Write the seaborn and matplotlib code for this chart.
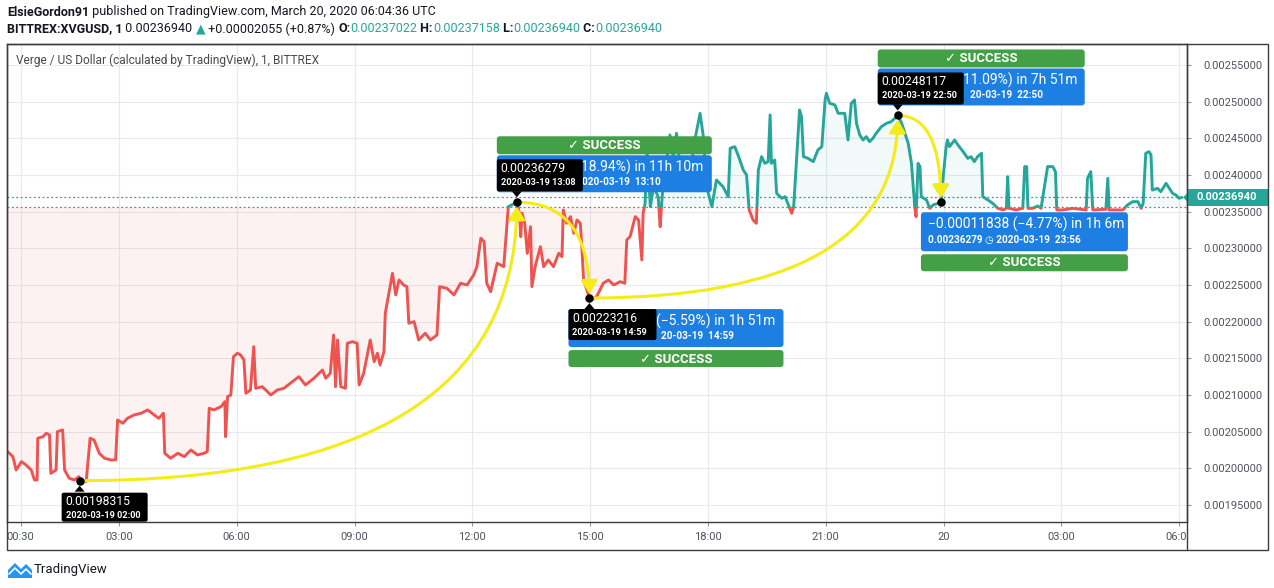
import numpy as np
import pandas as pd
import matplotlib.pyplot as plt
import matplotlib.dates as mdates
from matplotlib.patches import Rectangle, FancyBboxPatch, Polygon
from matplotlib.transforms import IdentityTransform
from matplotlib.lines import Line2D
import seaborn as sns

# 1-minute XVG/USD prices (minutes after 2020-03-19 00:00)
minute = [10, 18, 23, 31, 38, 46, 51, 55, 56, 64, 69, 74, 76, 84, 86, 94, 97, 104, 112, 119,
          120, 130, 136, 142, 150, 158, 168, 175, 178, 186, 193, 203, 214, 224, 234, 241, 248, 250, 259, 270,
          280, 290, 300, 310, 315, 318, 325, 336, 342, 343, 346, 351, 355, 361, 366, 371, 374, 381, 386, 389,
          399, 407, 412, 422, 432, 442, 455, 465, 478, 491, 496, 503, 508, 511, 514, 519, 526, 529, 537, 544,
          547, 554, 564, 570, 575, 579, 585, 587, 598, 603, 608, 615, 620, 623, 631, 638, 648, 656, 666, 670,
          681, 692, 702, 712, 722, 727, 733, 738, 742, 748, 758, 768, 775, 788, 792, 794, 796, 800, 804, 809,
          811, 816, 824, 829, 836, 844, 852, 857, 859, 864, 870, 875, 880, 885, 887, 890, 899, 903, 910, 920,
          928, 936, 946, 953, 956, 961, 969, 974, 979, 981, 984, 987, 992, 997, 1004, 1007, 1009, 1012, 1017, 1022,
          1027, 1032, 1037, 1042, 1053, 1058, 1063, 1068, 1073, 1078, 1086, 1093, 1103, 1111, 1114, 1121, 1126, 1134, 1139, 1143,
          1149, 1154, 1157, 1162, 1167, 1172, 1175, 1177, 1182, 1185, 1193, 1198, 1203, 1208, 1211, 1215, 1220, 1223, 1226, 1233,
          1241, 1248, 1254, 1259, 1261, 1266, 1274, 1279, 1289, 1294, 1299, 1304, 1307, 1312, 1317, 1322, 1327, 1332, 1337, 1345,
          1353, 1360, 1370, 1376, 1381, 1386, 1391, 1396, 1398, 1401, 1404, 1406, 1414, 1419, 1424, 1436, 1439, 1444, 1446, 1449,
          1457, 1462, 1470, 1477, 1482, 1487, 1492, 1498, 1500, 1508, 1515, 1523, 1531, 1536, 1538, 1540, 1551, 1561, 1564, 1567,
          1569, 1576, 1584, 1589, 1599, 1607, 1611, 1613, 1622, 1637, 1658, 1660, 1665, 1668, 1688, 1691, 1693, 1714, 1721, 1729,
          1737, 1742, 1745, 1749, 1754, 1757, 1759, 1767, 1772, 1780, 1785, 1790, 1795, 1800, 1804]
price = [0.0020227, 0.0020159, 0.0019977, 0.0020091, 0.0020046, 0.0019977, 0.0019841, 0.0019841, 0.0020410, 0.0020431,
         0.0020478, 0.0020455, 0.0019932, 0.0019977, 0.0020500, 0.0020523, 0.0019977, 0.0019864, 0.0019841, 0.0019886,
         0.00198315, 0.0019820, 0.0020410, 0.0020386, 0.0020205, 0.0020137, 0.0020114, 0.0020114, 0.0020659, 0.0020614,
         0.0020682, 0.0020727, 0.0020751, 0.0020796, 0.0020727, 0.0020682, 0.0020751, 0.0020205, 0.0020137, 0.0020205,
         0.0020159, 0.0020250, 0.0020182, 0.0020205, 0.0020227, 0.0020819, 0.0020796, 0.0020841, 0.0020909, 0.0020431,
         0.0020977, 0.0021000, 0.0021522, 0.0021569, 0.0021546, 0.0021477, 0.0021023, 0.0021068, 0.0021659, 0.0021091,
         0.0021113, 0.0021045, 0.0021000, 0.0021068, 0.0021091, 0.0021160, 0.0021250, 0.0021136, 0.0021228, 0.0021341,
         0.0021228, 0.0021296, 0.0021818, 0.0021113, 0.0021750, 0.0021113, 0.0021091, 0.0021705, 0.0021727, 0.0021705,
         0.0021136, 0.0021296, 0.0021750, 0.0021454, 0.0021569, 0.0021409, 0.0021591, 0.0022114, 0.0022659, 0.0022364,
         0.0022568, 0.0022500, 0.0022477, 0.0021978, 0.0022000, 0.0021750, 0.0021841, 0.0021750, 0.0021818, 0.0022477,
         0.0022455, 0.0022364, 0.0022523, 0.0022500, 0.0022636, 0.0022750, 0.0023137, 0.0023090, 0.0022523, 0.0022409,
         0.0022796, 0.0022750, 0.0023568, 0.00236279, 0.0023478, 0.0023159, 0.0023478, 0.0023341, 0.0022932, 0.0023295,
         0.0022477, 0.0022750, 0.0023022, 0.0022750, 0.0022841, 0.0022750, 0.0022932, 0.0022886, 0.0023523, 0.0023341,
         0.0023432, 0.0023205, 0.0023386, 0.0023341, 0.0023068, 0.0022568, 0.00223216, 0.0022300, 0.0022341, 0.0022523,
         0.0022568, 0.0022500, 0.0022545, 0.0022523, 0.0023114, 0.0023159, 0.0023432, 0.0023386, 0.0022841, 0.0023478,
         0.0023614, 0.0024341, 0.0023568, 0.0023841, 0.0023704, 0.0023295, 0.0023568, 0.0023932, 0.0024205, 0.0024545,
         0.0024250, 0.0024568, 0.0024159, 0.0023841, 0.0023932, 0.0024386, 0.0024614, 0.0024841, 0.0024523, 0.0023841,
         0.0023568, 0.0023932, 0.0023841, 0.0023704, 0.0024364, 0.0024386, 0.0024273, 0.0024068, 0.0024000, 0.0023523,
         0.0023386, 0.0023341, 0.0024068, 0.0024250, 0.0024159, 0.0024182, 0.0024818, 0.0024159, 0.0024205, 0.0023750,
         0.0023682, 0.0023704, 0.0023591, 0.0023478, 0.0023568, 0.0024159, 0.0024886, 0.0024795, 0.0024250, 0.0024227,
         0.0024182, 0.0024341, 0.0024386, 0.0025023, 0.0025114, 0.0024977, 0.0024955, 0.0024841, 0.0024841, 0.0024477,
         0.0024977, 0.0025023, 0.0024705, 0.0024545, 0.0024477, 0.0024523, 0.0024454, 0.0024500, 0.0024568, 0.0024659,
         0.0024705, 0.0024727, 0.00248117, 0.0024705, 0.0024568, 0.0024432, 0.0024159, 0.0023568, 0.0023432, 0.0024159,
         0.0024114, 0.0023704, 0.0023659, 0.0023545, 0.0023591, 0.00236279, 0.0023932, 0.0024386, 0.0024477, 0.0024386,
         0.0024477, 0.0024409, 0.0024318, 0.0024227, 0.0024250, 0.0024182, 0.0024250, 0.0024296, 0.0023704, 0.0023659,
         0.0023614, 0.0023545, 0.0023523, 0.0023545, 0.0023977, 0.0023545, 0.0023523, 0.0023545, 0.0024114, 0.0024114,
         0.0023545, 0.0023545, 0.0023577, 0.0023545, 0.0024114, 0.0024114, 0.0024045, 0.0023523, 0.0023523, 0.0023545,
         0.0023523, 0.0023955, 0.0024045, 0.0023523, 0.0023532, 0.0023955, 0.0023523, 0.0023523, 0.0023591, 0.0023636,
         0.0023636, 0.0023545, 0.0023614, 0.0024296, 0.0024318, 0.0024273, 0.0023795, 0.0023818, 0.0023773, 0.0023886,
         0.0023818, 0.0023750, 0.0023727, 0.0023682, 0.0023694]

baseline = 0.0023564
last_price = 0.0023694

# swing points picked with the drawing tool
pick_minute = [120, 788, 899, 1370, 1436]
pick_price = [0.00198315, 0.00236279, 0.00223216, 0.00248117, 0.00236279]
pick_stamp = ["2020-03-19 02:00", "2020-03-19 13:08", "2020-03-19 14:59", "2020-03-19 22:50", "2020-03-19 23:56"]
# result boxes: only the part not hidden behind the black tooltips is visible
move_text = ["18.94%) in 11h 10m", "(\u22125.59%) in 1h 51m", "11.09%) in 7h 51m",
             "\u22120.00011838 (\u22124.77%) in 1h 6m"]
move_end = ["020-03-19  13:10", "20-03-19  14:59", "20-03-19  22:50", "0.00236279 \u25f7 2020-03-19  23:56"]

tick_minute = [30, 180, 360, 540, 720, 900, 1080, 1260, 1440, 1620, 1800]
tick_label = ["00:30", "03:00", "06:00", "09:00", "12:00", "15:00", "18:00", "21:00", "20", "03:00", "06:00"]

RED, TEAL, BLUE, GREEN, YELLOW = "#ef5350", "#26a69a", "#1e7fe3", "#43a047", "#f3ec19"
FRAME, TXT, GREY = "#3d3d3d", "#131722", "#50535e"

sns.set_style("white")
plt.rcParams["font.family"] = ["Roboto", "DejaVu Sans"]

t0 = pd.Timestamp("2020-03-19")
times = t0 + pd.to_timedelta(minute, unit="m")
price_arr = np.array(price)

W, H = 1274, 588
fig = plt.figure(figsize=(W / 100, H / 100), dpi=100)
ax = fig.add_axes([7 / W, 1 - 522 / H, 1180 / W, 478 / H])

xlo, xhi = t0 + pd.Timedelta(minutes=9), t0 + pd.Timedelta(minutes=1812)
ax.set_xlim(xlo, xhi)
ax.set_ylim(0.0019268, 0.0025786)

# baseline-style fill
tn = mdates.date2num(times)
ax.fill_between(tn, price_arr, baseline, where=price_arr >= baseline, interpolate=True,
                color=TEAL, alpha=0.06, lw=0)
ax.fill_between(tn, price_arr, baseline, where=price_arr < baseline, interpolate=True,
                color=RED, alpha=0.07, lw=0)

# two-coloured line: same series, clipped above / below the baseline
x0n, x1n = mdates.date2num(xlo), mdates.date2num(xhi)
for col, y0 in [(TEAL, baseline), (RED, baseline - 1)]:
    sns.lineplot(x=times, y=price, ax=ax, color=col, lw=2.1, sort=False)
    clip = Rectangle((x0n, y0), x1n - x0n, 1, transform=ax.transData)
    ax.lines[-1].set_clip_path(clip)

ax.axhline(last_price, color=TEAL, lw=0.9, ls=(0, (1.5, 2)))
ax.axhline(baseline, color="#7a7d85", lw=0.9, ls=(0, (1.5, 2)))

# axes look
ax.set_xlabel("")
ax.set_ylabel("")
ax.set_xticks([t0 + pd.Timedelta(minutes=m) for m in tick_minute])
ax.set_xticklabels(tick_label)
ax.yaxis.tick_right()
ax.set_yticks(np.arange(0.00195, 0.002551, 0.00005))
ax.yaxis.set_major_formatter(plt.FormatStrFormatter("%.8f"))
ax.tick_params(axis="y", length=3, color="#9598a1", labelsize=8, labelcolor=GREY, pad=9, right=True)
ax.tick_params(axis="x", length=3, color="#9598a1", labelsize=8, labelcolor=GREY, pad=4, bottom=True)
ax.grid(True, color="#e7e9ef", lw=0.8)
ax.set_axisbelow(True)
for s in ax.spines.values():
    s.set_color(FRAME)
    s.set_linewidth(1)

ax.text(9 / 1180, 1 - 16 / 478, "Verge / US Dollar (calculated by TradingView), 1, BITTREX",
        transform=ax.transAxes, fontsize=8.6, color="#4a4a4a", va="center", ha="left")

# yellow swing arrows
pdates = [t0 + pd.Timedelta(minutes=m) for m in pick_minute]
for i in range(4):
    ax.annotate("", xy=(pdates[i + 1], pick_price[i + 1]), xytext=(pdates[i], pick_price[i]),
                arrowprops=dict(arrowstyle="-|>,head_length=0.55,head_width=0.35", color=YELLOW, lw=2.2,
                                connectionstyle="angle3,angleA=0,angleB=90", shrinkA=0, shrinkB=3,
                                mutation_scale=14), zorder=4)

fig.canvas.draw()


def anchor(i):
    return ax.transData.transform((mdates.date2num(pdates[i]), pick_price[i]))


def px_box(i, dx, dy, w, h, color, z, r=3):
    x, y = anchor(i)
    ax.add_patch(FancyBboxPatch((x + dx, y - dy - h), w, h, boxstyle=f"round,pad=0,rounding_size={r}",
                                fc=color, ec="none", transform=IdentityTransform(), zorder=z, clip_on=False))


def px_tip(i, sign, z):
    x, y = anchor(i)
    pts = [(x, y - sign * 5), (x - 5, y - sign * 11), (x + 5, y - sign * 11)]
    ax.add_patch(Polygon(pts, closed=True, fc="black", ec="none", transform=IdentityTransform(), zorder=z,
                         clip_on=False))


def px_text(i, s, dx, dy, z, **kw):
    ax.annotate(s, xy=(pdates[i], pick_price[i]), xytext=(dx, -dy), textcoords="offset pixels",
                va="center", zorder=z, **kw)


# (move index, anchor index, green/blue above or below, blue width, right edges of visible lines)
boxes = [
    (0, 1, "up", 215, 187, 144),
    (1, 2, "down", 215, 186, 144),
    (2, 3, "up", 207, 180, 145),
]
for k, i, side, w, r1, r2 in boxes:
    if side == "up":
        px_box(i, -20, -66, w, 18, GREEN, 6)
        px_text(i, "\u2713 SUCCESS", -20 + w / 2, -57, 6.5, ha="center", color="white",
                fontsize=9.5, fontweight="bold")
        px_box(i, -20, -47, w, 37, BLUE, 6)
        px_text(i, move_text[k], r1, -35, 6.5, ha="right", color="white", fontsize=10)
        px_text(i, move_end[k], r2, -20, 6.5, ha="right", color="white", fontsize=7.2, fontweight="bold")
        px_box(i, -20, -43, 86, 32, "black", 7, r=2)
        px_tip(i, -1, 7)
        px_text(i, f"{pick_price[i]:.8f}", -16, -34, 7.5, ha="left", color="white", fontsize=8.8)
        px_text(i, pick_stamp[i], -16, -20, 7.5, ha="left", color="white", fontsize=6.6, fontweight="bold")
    else:
        px_box(i, -21, 52, w, 17, GREEN, 6)
        px_text(i, "\u2713 SUCCESS", -21 + w / 2, 61, 6.5, ha="center", color="white",
                fontsize=9.5, fontweight="bold")
        px_box(i, -21, 11, w, 38, BLUE, 6)
        px_text(i, move_text[k], r1, 23, 6.5, ha="right", color="white", fontsize=10)
        px_text(i, move_end[k], r2, 38, 6.5, ha="right", color="white", fontsize=7.2, fontweight="bold")
        px_box(i, -21, 11, 88, 31, "black", 7, r=2)
        px_tip(i, 1, 7)
        px_text(i, f"{pick_price[i]:.8f}", -17, 20, 7.5, ha="left", color="white", fontsize=8.8)
        px_text(i, pick_stamp[i], -17, 34, 7.5, ha="left", color="white", fontsize=6.6, fontweight="bold")

# first pick: only the black tooltip below the low
px_box(0, -18, 12, 86, 29, "black", 7, r=2)
px_tip(0, 1, 7)
px_text(0, f"{pick_price[0]:.8f}", -14, 21, 7.5, ha="left", color="white", fontsize=8.8)
px_text(0, pick_stamp[0], -14, 35, 7.5, ha="left", color="white", fontsize=6.6, fontweight="bold")

# last pick: blue result box + success badge below
px_box(4, -20, 10, 207, 39, BLUE, 6)
px_text(4, move_text[3], -13, 22, 6.5, ha="left", color="white", fontsize=10)
px_text(4, move_end[3], -13, 38, 6.5, ha="left", color="white", fontsize=7.2, fontweight="bold")
px_box(4, -20, 52, 207, 17, GREEN, 6)
px_text(4, "\u2713 SUCCESS", -20 + 207 / 2, 60, 6.5, ha="center", color="white", fontsize=9.5, fontweight="bold")

ax.scatter(mdates.date2num(pdates), pick_price, s=26, color="black", zorder=8)

# last price tag on the price scale
lx, ly = ax.transData.transform((x1n, last_price))
ax.add_patch(Rectangle((lx, ly - 8.5), 81, 17, fc=TEAL, ec="none", transform=IdentityTransform(),
                       zorder=9, clip_on=False))
ax.add_patch(Polygon([(lx - 4, ly), (lx, ly - 4), (lx, ly + 4)], closed=True, fc=TEAL, ec="none",
                     transform=IdentityTransform(), zorder=9, clip_on=False))
ax.annotate(f"{last_price:.8f}", xy=(x1n, last_price), xytext=(40, 0), textcoords="offset pixels",
            ha="center", va="center", color="white", fontsize=8, fontweight="bold", zorder=10,
            annotation_clip=False)

# outer frame of the chart panel + price-scale separator
fig.add_artist(Rectangle((1188 / W, 1 - 549 / H), 79 / W, 26 / H, transform=fig.transFigure,
                         fc="white", ec="none", zorder=1))
fig.add_artist(Rectangle((7 / W, 1 - 550 / H), 1261 / W, 506 / H, transform=fig.transFigure,
                         fill=False, ec=FRAME, lw=1, zorder=2))
fig.add_artist(Line2D([1187 / W, 1187 / W], [1 - 550 / H, 1 - 44 / H], transform=fig.transFigure,
                      color=FRAME, lw=1, zorder=2))

# header lines
def chain(parts, x, y):
    prev = None
    for s, weight, col in parts:
        if prev is None:
            prev = fig.text(x / W, 1 - y / H, s, fontsize=9, fontweight=weight, color=col, va="center")
        else:
            prev = ax.annotate(s, xy=(1, 0.5), xycoords=prev, va="center", ha="left", fontsize=9,
                               fontweight=weight, color=col, annotation_clip=False)


chain([("ElsieGordon91", "bold", TXT),
       (" published on TradingView.com, March 20, 2020 06:04:36 UTC", "normal", TXT)], 7, 12)
chain([("BITTREX:XVGUSD, 1", "bold", TXT), (" 0.00236940 ", "normal", TXT), ("\u25b2", "normal", TEAL),
       (" +0.00002055 (+0.87%) ", "normal", TXT), ("O:", "bold", TXT), ("0.00237022", "normal", TEAL),
       (" H:", "bold", TXT), ("0.00237158", "normal", TEAL), (" L:", "bold", TXT),
       ("0.00236940", "normal", TEAL), (" C:", "bold", TXT), ("0.00236940", "normal", TEAL)], 7, 29)

# footer logo
fig.add_artist(Polygon([(8 / W, 1 - 578 / H), (8 / W, 1 - 570 / H), (15 / W, 1 - 563 / H), (21 / W, 1 - 569 / H),
                        (26 / W, 1 - 564 / H), (32 / W, 1 - 570 / H), (32 / W, 1 - 578 / H)],
                       transform=fig.transFigure, fc="#2196f3", ec="none"))
fig.add_artist(Line2D([9 / W, 15 / W, 21 / W, 26 / W, 31 / W], [1 - 574 / H, 1 - 568 / H, 1 - 574 / H,
                      1 - 569 / H, 1 - 574 / H], transform=fig.transFigure, color="white", lw=1.2))
fig.text(34 / W, 1 - 570 / H, "TradingView", fontsize=9.5, color=TXT, va="center")

fig.savefig("out.png", dpi=100, facecolor="white")
